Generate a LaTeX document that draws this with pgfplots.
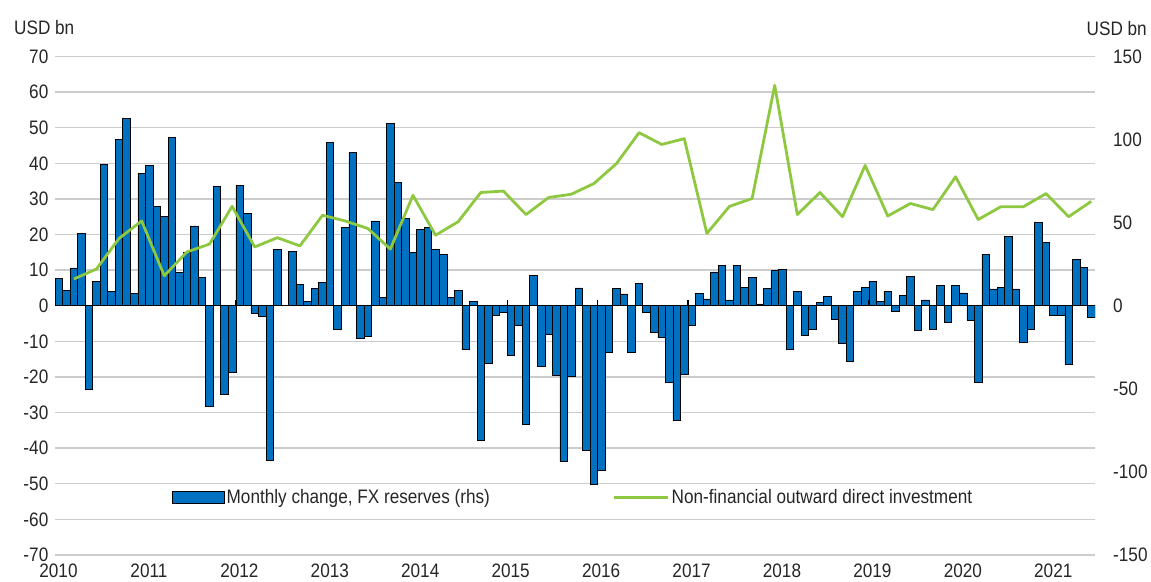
\documentclass[border=0pt]{standalone}
\usepackage{fontspec}
\setmainfont{Liberation Sans}[FakeStretch=0.88]
\usepackage{pgfplots}
\pgfplotsset{compat=1.18}
\usepackage{pgfplotstable}
\definecolor{barblue}{RGB}{0,112,192}
\definecolor{lgreen}{RGB}{142,200,65}
\definecolor{gridgray}{RGB}{204,204,204}
\pgfplotsset{
  barlegend/.style={legend image code/.code={\draw[##1,/tikz/.cd,sharp plot] (0pt,-6pt) rectangle (52pt,6pt);}},
  linelegend/.style={legend image code/.code={\draw[##1] (0pt,0pt) -- (54pt,0pt);}},
}

\pgfplotstableread{
m v
0 7.7
1 4.4
2 10.6
3 20.3
4 -23.6
5 6.9
6 39.7
7 3.9
8 46.8
9 52.5
10 3.5
11 37.1
12 39.3
13 27.8
14 25.0
15 47.2
16 9.4
17 15.0
18 22.4
19 8.0
20 -28.3
21 33.6
22 -24.8
23 -18.6
24 33.8
25 25.9
26 -2.1
27 -2.9
28 -43.5
29 15.9
30 0
31 15.2
32 6.0
33 1.2
34 4.9
35 6.6
36 45.8
37 -6.7
38 22.1
39 43.0
40 -9.2
41 -8.5
42 23.8
43 2.3
44 51.1
45 34.7
46 24.5
47 14.9
48 21.4
49 22.1
50 15.9
51 14.5
52 2.3
53 4.4
54 -12.4
55 1.2
56 -37.9
57 -16.1
58 -2.8
59 -2.0
60 -13.9
61 -5.6
62 -33.2
63 8.4
64 -17.0
65 -8.0
66 -19.6
67 -43.7
68 -19.9
69 5.0
70 -40.5
71 -50.3
72 -46.3
73 -13.2
74 4.8
75 3.3
76 -13.2
77 6.3
78 -2.0
79 -7.5
80 -8.9
81 -21.5
82 -32.2
83 -19.3
84 -5.6
85 3.4
86 1.9
87 9.5
88 11.2
89 1.6
90 11.2
91 5.1
92 8.0
93 0.5
94 4.8
95 9.8
96 10.2
97 -12.4
98 4.1
99 -8.4
100 -6.6
101 0.8
102 2.6
103 -3.7
104 -10.6
105 -15.7
106 4.1
107 5.1
108 6.9
109 1.3
110 4.1
111 -1.6
112 3.0
113 8.3
114 -7.0
115 1.6
116 -6.6
117 5.8
118 -4.7
119 5.8
120 3.6
121 -4.0
122 -21.5
123 14.5
124 4.7
125 5.1
126 19.5
127 4.7
128 -10.3
129 -6.6
130 23.4
131 17.7
132 -2.8
133 -2.8
134 -16.4
135 13.0
136 10.7
137 -3.4
}\fxres

\pgfplotstableread{
m v
2.5 7.5
5.5 10.3
8.5 18.9
11.5 23.8
14.5 8.4
17.5 15.1
20.5 17.3
23.5 27.9
26.5 16.5
29.5 19.1
32.5 16.8
35.5 25.4
38.5 23.8
41.5 21.7
44.5 15.9
47.5 31.0
50.5 19.8
53.5 23.6
56.5 31.8
59.5 32.2
62.5 25.6
65.5 30.4
68.5 31.3
71.5 34.3
74.5 39.9
77.5 48.6
80.5 45.3
83.5 46.9
86.5 20.3
89.5 27.9
92.5 30.1
95.5 61.9
98.5 25.6
101.5 31.8
104.5 25.0
107.5 39.4
110.5 25.2
113.5 28.7
116.5 27.0
119.5 36.2
122.5 24.2
125.5 27.8
128.5 27.8
131.5 31.5
134.5 25.0
137.5 29.3
}\odi

\begin{document}
\begin{tikzpicture}[font=\fontsize{19.5}{23}\selectfont]
\useasboundingbox (0,0) rectangle (1151pt,581pt);
\begin{axis}[
  at={(55pt,26.1pt)}, anchor=south west, scale only axis,
  width=1040pt, height=498.4pt,
  xmin=0, xmax=138, ymin=-70, ymax=70,
  ytick={-70,-60,...,70},
  xtick={0,12,...,132},
  xticklabels={2010,2011,2012,2013,2014,2015,2016,2017,2018,2019,2020,2021},
  axis line style={draw=none},
  major tick length=0pt,
  ymajorgrids, grid style={gridgray, line width=1.3pt},
  tick label style={text=black!85},
  /pgf/number format/assume math mode=true,
  xticklabel style={inner sep=1pt, yshift=-8.1pt, xshift=3.5pt},
  yticklabel style={inner sep=1pt, xshift=-5.5pt},
  legend columns=2,
  legend cell align=left,
  legend style={at={(0.1125,0.1152)}, anchor=west, draw=none, fill=none,
    inner sep=0pt, outer sep=0pt, text=black!85,
    /tikz/every even column/.append style={column sep=121pt}},
]
\addplot[ybar, bar width=1, bar shift=0pt, fill=barblue, draw=black, line width=0.7pt, barlegend]
  table[x expr=\thisrow{m}+0.5, y=v] {\fxres};
\addlegendentry{Monthly change, FX reserves (rhs)}
\addplot[black, line width=1.6pt, forget plot] coordinates {(0,0) (138,0)};
\pgfplotsinvokeforeach{0,12,...,132}{\draw[black, line width=1.2pt] (axis cs:#1,0) -- ++(0pt,6pt);}
\addplot[lgreen, line width=2.8pt, line join=round, linelegend]
  table[x=m, y=v] {\odi};
\addlegendentry{Non-financial outward direct investment}
\end{axis}
\begin{axis}[
  at={(55pt,26.1pt)}, anchor=south west, scale only axis,
  width=1040pt, height=498.4pt,
  xmin=0, xmax=138, ymin=-150, ymax=150,
  ytick={-150,-100,...,150},
  axis x line=none, axis y line*=right,
  axis line style={draw=none},
  major tick length=0pt,
  tick label style={text=black!85},
  yticklabel style={anchor=west, inner sep=1pt, xshift=17pt},
  /pgf/number format/assume math mode=true,
]
\addplot[draw=none] coordinates {(0,0)};
\end{axis}
\node[anchor=west, inner sep=0pt, text=black!85] at (14pt,553pt) {USD bn};
\node[anchor=east, inner sep=0pt, text=black!85] at (1147pt,552pt) {USD bn};
\end{tikzpicture}
\end{document}
